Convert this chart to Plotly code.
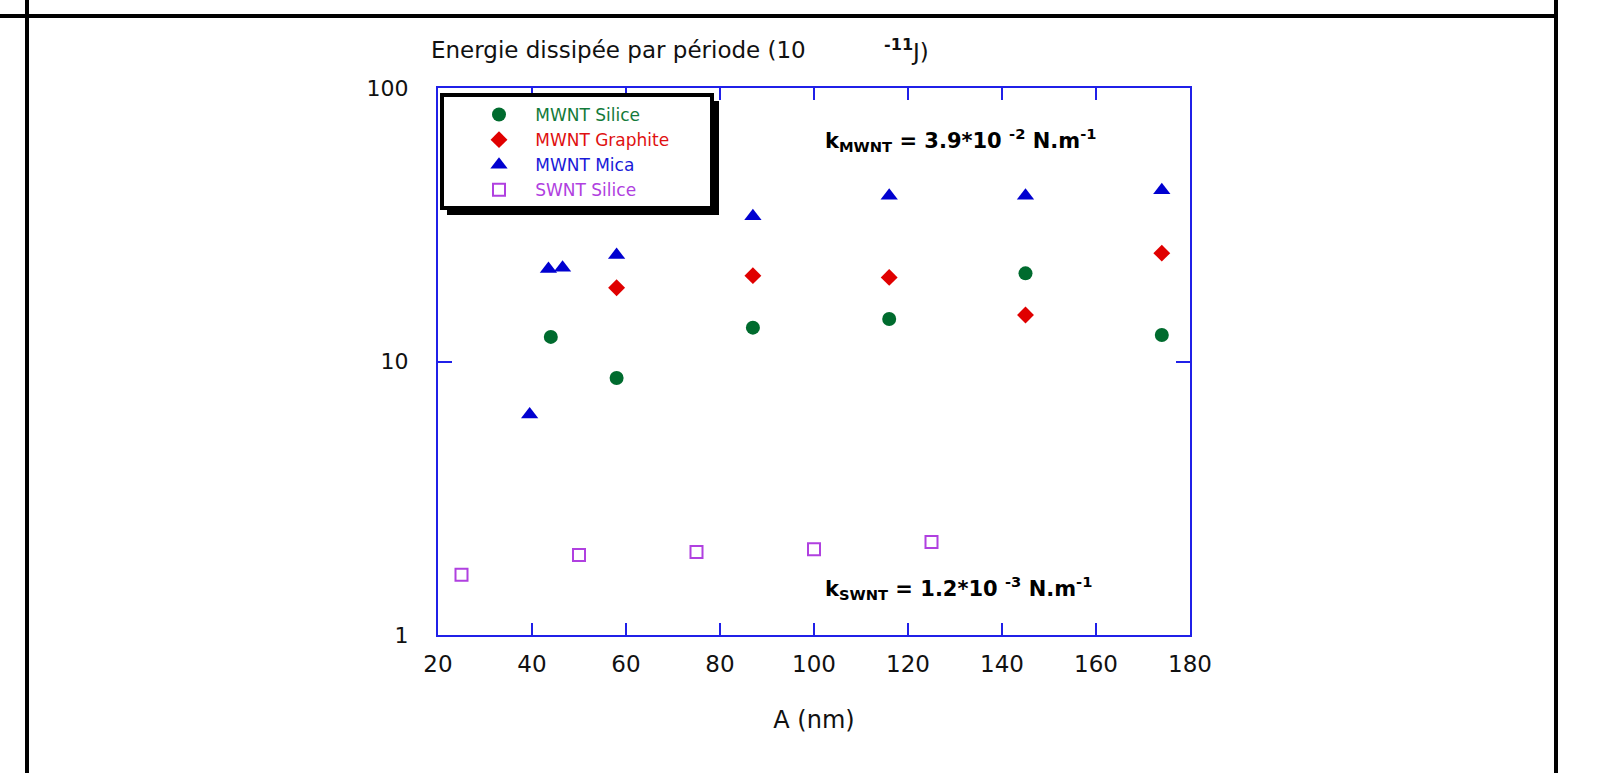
import plotly.graph_objects as go

# ---- data ----
silice_x = [44, 58, 87, 116, 145, 174]
silice_y = [12.3, 8.7, 13.3, 14.3, 21.0, 12.5]

graphite_x = [58, 87, 116, 145, 174]
graphite_y = [18.6, 20.6, 20.3, 14.8, 24.9]

mica_x = [39.5, 43.5, 46.5, 58, 87, 116, 145, 174]
mica_y = [6.4, 21.8, 22.0, 24.5, 34.0, 40.4, 40.4, 42.3]

swnt_x = [25, 50, 75, 100, 125]
swnt_y = [1.66, 1.96, 2.01, 2.06, 2.19]

x_ticks = [20, 40, 60, 80, 100, 120, 140, 160, 180]
y_ticks = [1, 10, 100]
y_ticktext = ["1", "10", "100"]

names = ["MWNT Silice", "MWNT Graphite", "MWNT Mica", "SWNT Silice"]
colors = ["#006b2e", "#e00000", "#0000d0", "#b040e0"]
text_colors = ["#137a3a", "#e01010", "#1a1ad8", "#b040e0"]

FONT = "DejaVu Sans, Liberation Sans, Arial, sans-serif"
AXIS_BLUE = "#2020e8"

# page geometry helpers (pixels -> paper)
W, H = 1600, 773
L, R, T, B = 438, 1190, 88, 635


def px(x):
    return (x - L) / (R - L)


def py(y):
    return (B - y) / (B - T)


def legend_name(i):
    return f"&nbsp;&nbsp;&nbsp;<span style='color:{text_colors[i]}'>{names[i]}</span>"


fig = go.Figure()

fig.add_trace(go.Scatter(
    x=silice_x, y=silice_y, mode="markers", name=legend_name(0),
    marker=dict(symbol="circle", size=14, color=colors[0])))
fig.add_trace(go.Scatter(
    x=graphite_x, y=graphite_y, mode="markers", name=legend_name(1),
    marker=dict(symbol="diamond", size=13, color=colors[1])))
fig.add_trace(go.Scatter(
    x=mica_x, y=mica_y, mode="markers", name=legend_name(2),
    marker=dict(symbol="triangle-up", size=15, color=colors[2])))
fig.add_trace(go.Scatter(
    x=swnt_x, y=swnt_y, mode="markers", name=legend_name(3),
    marker=dict(symbol="square-open", size=12, color=colors[3],
                line=dict(width=2, color=colors[3]))))

shapes = [
    # legend shadow and box
    dict(type="rect", xref="paper", yref="paper",
         x0=px(447), x1=px(719), y0=py(101), y1=py(215),
         fillcolor="black", line=dict(width=0), layer="above"),
    dict(type="rect", xref="paper", yref="paper",
         x0=px(442), x1=px(712), y0=py(95), y1=py(208),
         fillcolor="white", line=dict(width=4, color="black"), layer="above"),
    # page frame lines
    dict(type="line", xref="paper", yref="paper",
         x0=px(27), x1=px(27), y0=py(0), y1=py(W), line=dict(width=4, color="black")),
    dict(type="line", xref="paper", yref="paper",
         x0=px(1556), x1=px(1556), y0=py(0), y1=py(W), line=dict(width=4, color="black")),
    dict(type="line", xref="paper", yref="paper",
         x0=px(0), x1=px(1558), y0=py(16), y1=py(16), line=dict(width=4, color="black")),
]

annotations = [
    dict(xref="paper", yref="paper", x=px(429), y=py(50), xanchor="left", yanchor="middle",
         text="Energie dissipée par période (10", showarrow=False,
         font=dict(family=FONT, size=23, color="#111")),
    dict(xref="paper", yref="paper", x=px(882), y=py(50), xanchor="left", yanchor="middle",
         text="<sup><b>-11</b></sup>J)", showarrow=False,
         font=dict(family=FONT, size=23, color="#111")),
    dict(xref="paper", yref="paper", x=px(823), y=py(140), xanchor="left", yanchor="middle",
         text="<b>k<sub>MWNT</sub> = 3.9*10 <sup>-2</sup> N.m<sup>-1</sup></b>",
         showarrow=False, font=dict(family=FONT, size=21, color="black")),
    dict(xref="paper", yref="paper", x=px(823), y=py(588), xanchor="left", yanchor="middle",
         text="<b>k<sub>SWNT</sub> = 1.2*10 <sup>-3</sup> N.m<sup>-1</sup></b>",
         showarrow=False, font=dict(family=FONT, size=21, color="black")),
]

fig.update_layout(
    width=W, height=H,
    margin=dict(l=L, r=W - R, t=T, b=H - B, pad=0),
    paper_bgcolor="white", plot_bgcolor="white",
    font=dict(family=FONT, size=22, color="#111"),
    shapes=shapes, annotations=annotations,
    showlegend=True,
    legend=dict(x=px(479), y=py(97), xanchor="left", yanchor="top",
                bgcolor="rgba(0,0,0,0)", borderwidth=0,
                font=dict(family=FONT, size=17), tracegroupgap=0,
                itemsizing="trace"),
)

fig.update_xaxes(
    range=[20, 180], tickvals=x_ticks, ticks="inside", ticklen=12, tickwidth=2,
    tickcolor=AXIS_BLUE, showline=True, linecolor=AXIS_BLUE, linewidth=2,
    mirror="ticks", showgrid=False, zeroline=False, ticklabelstandoff=7,
    tickfont=dict(family=FONT, size=23, color="#111"),
    title=dict(text="A (nm)", font=dict(family=FONT, size=24, color="#111"), standoff=36),
)
fig.update_yaxes(
    type="log", range=[0, 2], tickvals=y_ticks, ticktext=y_ticktext,
    ticks="inside", ticklen=14, tickwidth=2, tickcolor=AXIS_BLUE,
    showline=True, linecolor=AXIS_BLUE, linewidth=2, mirror="ticks",
    showgrid=False, zeroline=False, ticklabelstandoff=23,
    tickfont=dict(family=FONT, size=22, color="#111"),
)

fig.write_html("out.html", config={"displayModeBar": False},
               post_script="document.body.style.margin='0';document.body.style.overflow='hidden';")
